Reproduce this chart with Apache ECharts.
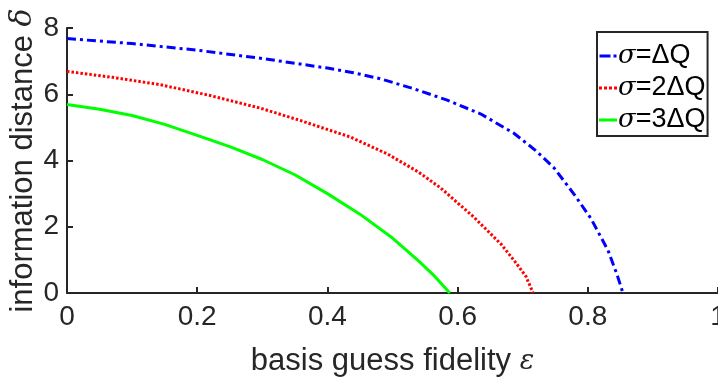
<!DOCTYPE html>
<html>
<head>
<meta charset="utf-8">
<script src="https://cdn.jsdelivr.net/npm/echarts@6/dist/echarts.min.js"></script>
<style>
  html, body { margin: 0; padding: 0; background: #fff; }
  #chart { width: 718px; height: 379px; }
</style>
</head>
<body>
<div id="chart"></div>
<script>
// fidelity (x) and information distance (y)
const xs1 = [0, 0.1, 0.2, 0.3, 0.4, 0.44, 0.481, 0.532, 0.583, 0.635, 0.686, 0.72, 0.748, 0.779, 0.805, 0.831, 0.845, 0.854];
const ys1 = [7.68, 7.53, 7.33, 7.08, 6.79, 6.65, 6.47, 6.17, 5.83, 5.41, 4.83, 4.3, 3.78, 2.98, 2.24, 1.29, 0.55, 0];

const xs2 = [0, 0.07, 0.143, 0.22, 0.297, 0.358, 0.435, 0.492, 0.54, 0.574, 0.625, 0.667, 0.69, 0.705, 0.716];
const ys2 = [6.69, 6.51, 6.29, 5.96, 5.58, 5.21, 4.71, 4.2, 3.65, 3.17, 2.29, 1.47, 0.9, 0.5, 0];

const xs3 = [0, 0.05, 0.1, 0.15, 0.2, 0.25, 0.3, 0.35, 0.4, 0.45, 0.5, 0.54, 0.565, 0.588];
const ys3 = [5.69, 5.55, 5.36, 5.09, 4.76, 4.42, 4.03, 3.57, 3.0, 2.38, 1.66, 0.97, 0.5, 0];

const seriesNames = ['σ=ΔQ', 'σ=2ΔQ', 'σ=3ΔQ'];

const axisColor = '#262626';
const font = '"Liberation Sans", Arial, Helvetica, sans-serif';
const serif = '"DejaVu Serif", "Liberation Serif", serif';

const pairs = (xs, ys) => xs.map((x, i) => [x, ys[i]]);

// small line samples for the legend box
const legendIcons = [
  'path://M0,0h11v3h-11z M14,0h3v3h-3z',
  'path://M0,0h3v3h-3z M5,0h3v3h-3z M10,0h3v3h-3z M15,0h3v3h-3z',
  'rect'
];

const chart = echarts.init(document.getElementById('chart'));
chart.setOption({
  animation: false,
  backgroundColor: '#fff',
  grid: { left: 67, top: 28, width: 651, height: 265, outerBoundsMode: 'none', containLabel: false },
  legend: {
    orient: 'vertical',
    left: 597,
    top: 32,
    padding: [8, 2, 0, 2],
    itemGap: 0,
    itemWidth: 18,
    itemHeight: 3,
    borderColor: axisColor,
    borderWidth: 2,
    backgroundColor: '#fff',
    data: seriesNames.map((n, i) => ({ name: n, icon: legendIcons[i] })),
    formatter: name => '{s|σ}' + name.slice(1),
    textStyle: {
      color: '#000',
      fontFamily: font,
      fontSize: 27,
      lineHeight: 32,
      padding: [0, 0, 0, -4],
      rich: {
        s: { fontFamily: serif, fontStyle: 'italic', fontSize: 26, color: '#000' }
      }
    }
  },
  xAxis: {
    type: 'value',
    min: 0,
    max: 1,
    interval: 0.2,
    name: 'basis guess fidelity {g|ε}',
    nameLocation: 'middle',
    nameMoveOverlap: false,
    nameGap: 53,
    nameTextStyle: {
      color: axisColor, fontFamily: font, fontSize: 31,
      rich: { g: { fontFamily: serif, fontStyle: 'italic', fontSize: 27, color: axisColor } }
    },
    axisLine: { lineStyle: { color: axisColor, width: 2 } },
    axisTick: { inside: true, length: 6, lineStyle: { color: axisColor, width: 2 } },
    axisLabel: { color: axisColor, fontFamily: font, fontSize: 28, margin: 10 },
    splitLine: { show: false }
  },
  yAxis: {
    type: 'value',
    min: 0,
    max: 8,
    interval: 2,
    name: 'information distance {g|δ}',
    nameLocation: 'middle',
    nameMoveOverlap: false,
    nameGap: 28,
    nameTextStyle: {
      color: axisColor, fontFamily: font, fontSize: 31,
      rich: { g: { fontFamily: serif, fontStyle: 'italic', fontSize: 30, color: axisColor } }
    },
    axisLine: { show: true, lineStyle: { color: axisColor, width: 2 } },
    axisTick: { show: true, inside: true, length: 6, lineStyle: { color: axisColor, width: 2 } },
    axisLabel: { color: axisColor, fontFamily: font, fontSize: 28, margin: 8 },
    splitLine: { show: false }
  },
  series: [
    {
      name: seriesNames[0], type: 'line', data: pairs(xs1, ys1),
      symbol: 'none', smooth: false, color: '#0000ff',
      lineStyle: { color: '#0000ff', width: 3, type: [9, 4, 3, 4] }
    },
    {
      name: seriesNames[1], type: 'line', data: pairs(xs2, ys2),
      symbol: 'none', smooth: false, color: '#ff0000',
      lineStyle: { color: '#ff0000', width: 3, type: [2.5, 2] }
    },
    {
      name: seriesNames[2], type: 'line', data: pairs(xs3, ys3),
      symbol: 'none', smooth: false, color: '#00ff00',
      lineStyle: { color: '#00ff00', width: 3 }
    }
  ]
});
</script>
</body>
</html>
